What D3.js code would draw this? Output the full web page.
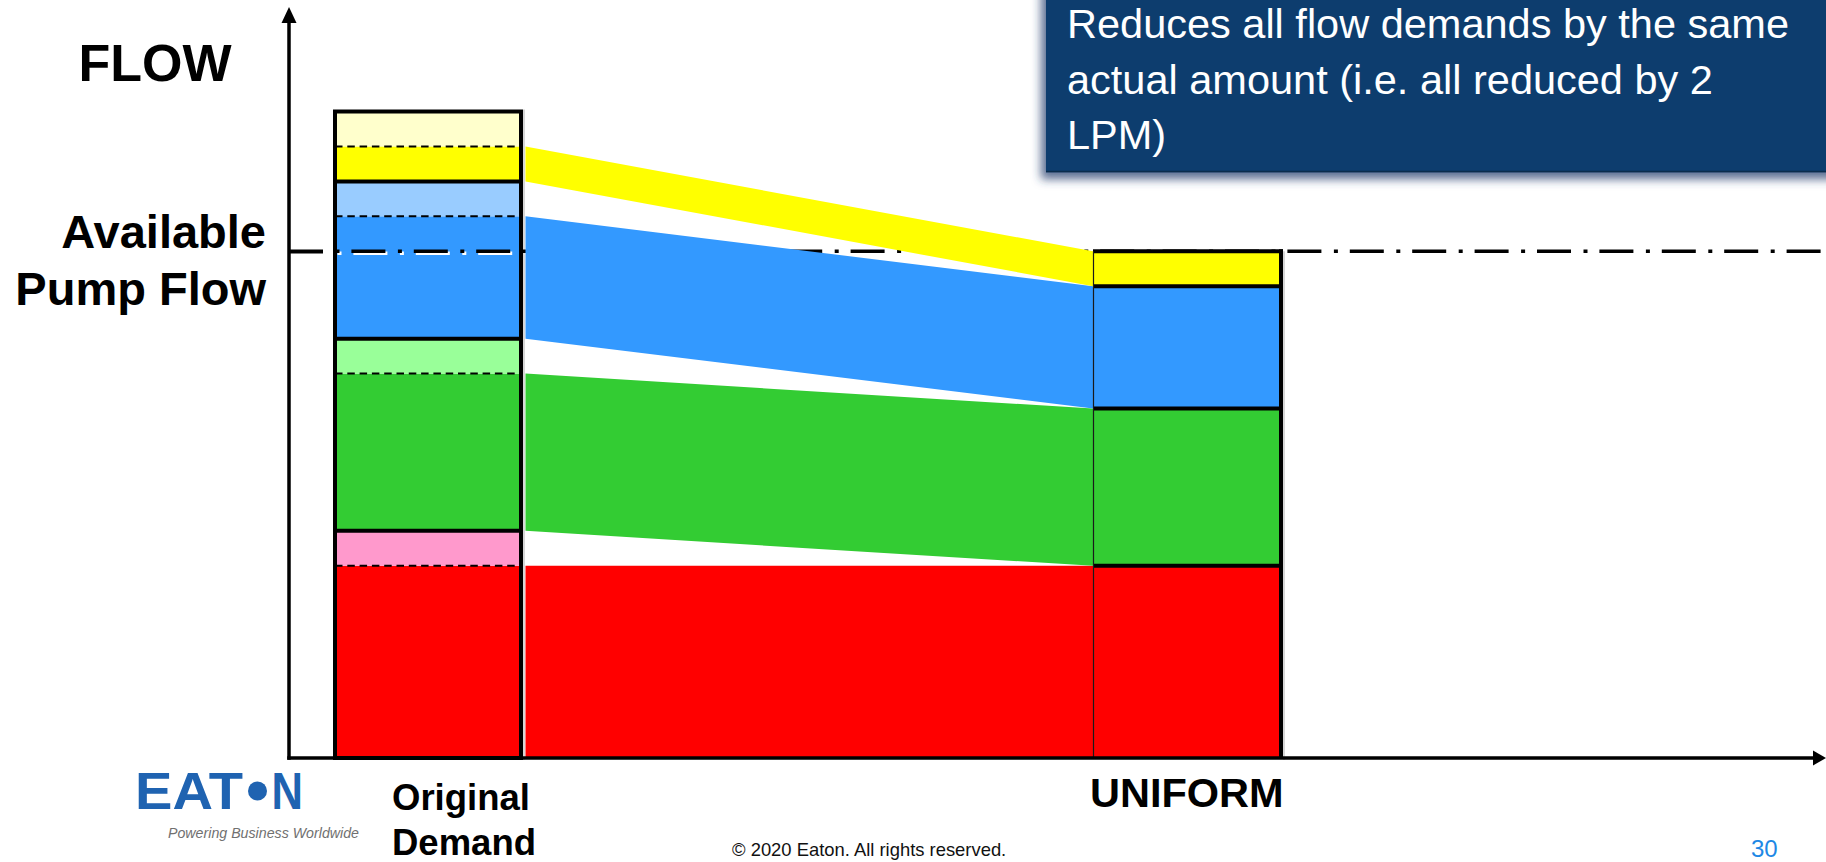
<!DOCTYPE html>
<html>
<head>
<meta charset="utf-8">
<script src="https://cdn.jsdelivr.net/npm/d3@7"></script>
<style>
  html, body { margin: 0; padding: 0; background: #ffffff; overflow: hidden; }
  svg { display: block; }
  text { font-family: "Liberation Sans", Arial, sans-serif; }
</style>
</head>
<body>
<svg id="chart" width="1826" height="862"></svg>
<script>
// ---- data -------------------------------------------------------------
const categories = ["Original Demand", "UNIFORM"];
const categoryLines = [["Original", "Demand"], ["UNIFORM"]];
const seriesNames = ["Circuit A", "Circuit B", "Circuit C", "Circuit D"];
const originalDemand = [13, 11, 9, 4];     // LPM requested per circuit
const uniformFlow = [11, 9, 7, 2];         // LPM after uniform reduction
const availablePumpFlow = 29;              // LPM
const solidColors = ["#ff0000", "#33cc33", "#3399ff", "#ffff00"];
const reductionColors = ["#ff99cc", "#99ff99", "#99ccff", "#ffffcc"];
const yAxisTitle = "FLOW";
const referenceLabel = ["Available", "Pump Flow"];
const noteLines = [
  "Reduces all flow demands by the same",
  "actual amount (i.e. all reduced by 2",
  "LPM)"
];
const footerText = "\u00A9 2020 Eaton. All rights reserved.";
const pageNumber = "30";

// ---- layout -------------------------------------------------------------
const svg = d3.select("#chart");
const W = 1826, H = 862;
const axisX = 289, baseY = 758;
const barHalf = 93;

const x = d3.scalePoint().domain(categories).range([428, 1188]);
const y = d3.scaleLinear().domain([0, 37]).range([baseY, 111.5]);

// stacked segments for both columns
function stack(values) {
  let acc = 0;
  return values.map(v => { const s = { y0: acc, y1: acc + v }; acc += v; return s; });
}
const origStack = stack(originalDemand);
const uniStack = stack(uniformFlow);
const origSegments = seriesNames.map((name, i) => ({
  name,
  base: origStack[i].y0,
  solidTop: origStack[i].y0 + uniformFlow[i],
  top: origStack[i].y1
}));

const defs = svg.append("defs");
const shadow = defs.append("filter").attr("id", "boxShadow")
  .attr("x", "-10%").attr("y", "-10%").attr("width", "120%").attr("height", "140%");
shadow.append("feDropShadow").attr("dx", -5).attr("dy", 7).attr("stdDeviation", 5)
  .attr("flood-color", "#2b3f70").attr("flood-opacity", 0.75);

// ---- original demand column fills ----------------------------------------
const cxO = x(categories[0]);
const gOrig = svg.append("g");
gOrig.selectAll("rect.solid").data(origSegments).join("rect")
  .attr("x", cxO - barHalf).attr("width", barHalf * 2)
  .attr("y", d => y(d.solidTop)).attr("height", d => y(d.base) - y(d.solidTop))
  .attr("fill", (d, i) => solidColors[i]);
gOrig.selectAll("rect.reduction").data(origSegments).join("rect")
  .attr("x", cxO - barHalf).attr("width", barHalf * 2)
  .attr("y", d => y(d.top)).attr("height", d => y(d.solidTop) - y(d.top))
  .attr("fill", (d, i) => reductionColors[i]);

// ---- available pump flow reference line -----------------------------------
const dash = "34,12.5,4,11.9";
svg.append("line")
  .attr("x1", axisX + 2).attr("x2", W).attr("y1", y(availablePumpFlow) + 2).attr("y2", y(availablePumpFlow) + 2)
  .attr("stroke", "#ffffff").attr("stroke-width", 3.5).attr("stroke-dasharray", dash);
svg.append("line")
  .attr("x1", axisX).attr("x2", W).attr("y1", y(availablePumpFlow)).attr("y2", y(availablePumpFlow))
  .attr("stroke", "#000000").attr("stroke-width", 3.5).attr("stroke-dasharray", dash);

// ---- flow bands between the columns ---------------------------------------
const cxU = x(categories[1]);
const bandX0 = cxO + barHalf + 4.5, bandX1 = cxU - 95;
const area = d3.area().x(d => d.x).y0(d => y(d.lo)).y1(d => y(d.hi));
svg.append("g").selectAll("path").data(seriesNames).join("path")
  .attr("d", (d, i) => area([
    { x: bandX0, lo: origSegments[i].base, hi: origSegments[i].solidTop },
    { x: bandX1, lo: uniStack[i].y0, hi: uniStack[i].y1 }
  ]))
  .attr("fill", (d, i) => solidColors[i]);

// ---- uniform column -------------------------------------------------------
const gUni = svg.append("g");
const uL = cxU - 95, uR = cxU + barHalf;
gUni.selectAll("rect").data(uniStack).join("rect")
  .attr("x", uL).attr("width", uR - uL)
  .attr("y", d => y(d.y1)).attr("height", d => y(d.y0) - y(d.y1))
  .attr("fill", (d, i) => solidColors[i]);
gUni.append("line").attr("x1", uR + 3).attr("x2", uR + 3)
  .attr("y1", y(uniStack[uniStack.length - 1].y1)).attr("y2", baseY + 2)
  .attr("stroke", "#c8c8c8").attr("stroke-width", 1.5);
gUni.selectAll("line.sep").data(uniStack).join("line")
  .attr("x1", uL).attr("x2", uR + 2)
  .attr("y1", d => y(d.y1)).attr("y2", d => y(d.y1))
  .attr("stroke", "#000").attr("stroke-width", 4);
gUni.append("line").attr("x1", uR).attr("x2", uR)
  .attr("y1", y(uniStack[uniStack.length - 1].y1) - 2).attr("y2", baseY)
  .attr("stroke", "#000").attr("stroke-width", 4);
gUni.append("line").attr("x1", uL + 0.5).attr("x2", uL + 0.5)
  .attr("y1", y(uniStack[uniStack.length - 1].y1)).attr("y2", baseY)
  .attr("stroke", "#1a1a1a").attr("stroke-width", 1.2);

// ---- original column outlines ----------------------------------------------
gOrig.append("line").attr("x1", cxO + barHalf + 3).attr("x2", cxO + barHalf + 3)
  .attr("y1", y(37) - 2).attr("y2", baseY + 2)
  .attr("stroke", "#c8c8c8").attr("stroke-width", 1.5);
gOrig.selectAll("line.dashed").data(origSegments).join("line")
  .attr("x1", cxO - barHalf).attr("x2", cxO + barHalf)
  .attr("y1", d => y(d.solidTop)).attr("y2", d => y(d.solidTop))
  .attr("stroke", "#000").attr("stroke-width", 2).attr("stroke-dasharray", "7.5,4.8");
gOrig.selectAll("line.solidsep").data(origSegments.slice(1)).join("line")
  .attr("x1", cxO - barHalf).attr("x2", cxO + barHalf)
  .attr("y1", d => y(d.base)).attr("y2", d => y(d.base))
  .attr("stroke", "#000").attr("stroke-width", 4);
gOrig.append("rect")
  .attr("x", cxO - barHalf).attr("width", barHalf * 2)
  .attr("y", y(d3.sum(originalDemand))).attr("height", baseY - y(d3.sum(originalDemand)))
  .attr("fill", "none").attr("stroke", "#000").attr("stroke-width", 4);

// ---- axes -----------------------------------------------------------------
const yAxis = d3.axisLeft(y).tickValues([availablePumpFlow]).tickSize(-34).tickFormat("");
const gy = svg.append("g").attr("transform", `translate(${axisX},0)`).call(yAxis);
gy.select(".domain").remove();
gy.selectAll(".tick line").attr("stroke", "#000").attr("stroke-width", 3.5);

svg.append("line").attr("x1", axisX).attr("x2", axisX).attr("y1", baseY + 1.75).attr("y2", 20)
  .attr("stroke", "#000").attr("stroke-width", 3.5);
svg.append("path").attr("d", `M${axisX},7 L${axisX - 7.5},23 L${axisX + 7.5},23 Z`).attr("fill", "#000");
svg.append("line").attr("x1", axisX - 1.75).attr("x2", W - 8).attr("y1", baseY).attr("y2", baseY)
  .attr("stroke", "#000").attr("stroke-width", 3.5);
svg.append("path").attr("d", `M${W},${baseY} L${W - 13},${baseY - 7.5} L${W - 13},${baseY + 7.5} Z`).attr("fill", "#000");

// ---- axis labels ------------------------------------------------------------
svg.append("text").attr("x", 155).attr("y", 81).attr("text-anchor", "middle")
  .attr("font-size", 52).attr("font-weight", "bold").text(yAxisTitle);
svg.append("g").selectAll("text").data(referenceLabel).join("text")
  .attr("x", 266).attr("y", (d, i) => 248 + i * 57).attr("text-anchor", "end")
  .attr("font-size", 47).attr("font-weight", "bold").text(d => d);

// category labels
const catX = [392, 1090];
const catBase = [[810, 855], [807]];
const catSize = [36.5, 41.5];
categoryLines.forEach((lines, ci) => {
  svg.append("g").selectAll("text").data(lines).join("text")
    .attr("x", catX[ci]).attr("y", (d, i) => catBase[ci][i])
    .attr("font-size", catSize[ci]).attr("font-weight", "bold").text(d => d);
});

// ---- note box ---------------------------------------------------------------
svg.append("rect").attr("x", 1046).attr("y", -20).attr("width", 820).attr("height", 192.3)
  .attr("fill", "#083e6e").attr("filter", "url(#boxShadow)");
svg.append("line").attr("x1", 1046).attr("x2", W).attr("y1", 171.5).attr("y2", 171.5)
  .attr("stroke", "#0a2c4c").attr("stroke-width", 1.5);
svg.append("g").selectAll("text").data(noteLines).join("text")
  .attr("x", 1067).attr("y", (d, i) => 38 + i * 55.5)
  .attr("font-size", 41.5).attr("fill", "#ffffff").text(d => d);

// ---- footer -----------------------------------------------------------------
const logo = svg.append("g").attr("fill", "#1f63b1");
logo.append("text").attr("x", 135).attr("y", 809).attr("font-size", 51).attr("font-weight", "bold")
  .attr("textLength", 108).attr("lengthAdjust", "spacingAndGlyphs").text("EAT");
logo.append("circle").attr("cx", 257.5).attr("cy", 791).attr("r", 9.5);
logo.append("text").attr("x", 271.5).attr("y", 809).attr("font-size", 51).attr("font-weight", "bold")
  .attr("textLength", 31.5).attr("lengthAdjust", "spacingAndGlyphs").text("N");
svg.append("text").attr("x", 168).attr("y", 838).attr("font-size", 15).attr("font-style", "italic")
  .attr("fill", "#707070").attr("textLength", 191).attr("lengthAdjust", "spacingAndGlyphs")
  .text("Powering Business Worldwide");

svg.append("text").attr("x", 732).attr("y", 856).attr("font-size", 18.4).attr("fill", "#111")
  .text(footerText);
svg.append("text").attr("x", 1751).attr("y", 857).attr("font-size", 24).attr("fill", "#1e88e5")
  .text(pageNumber);
</script>
</body>
</html>
